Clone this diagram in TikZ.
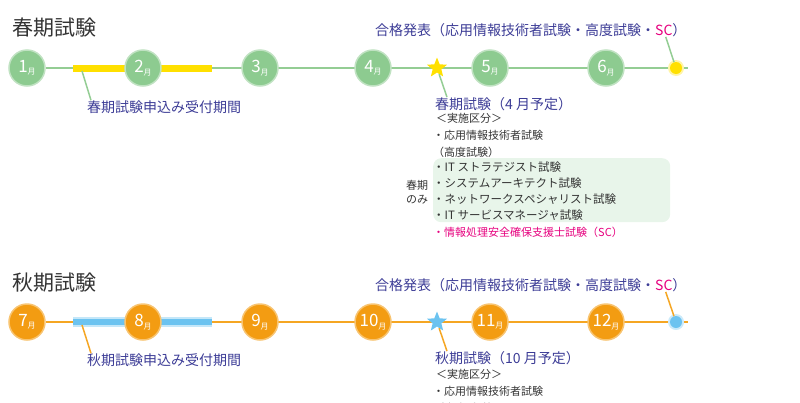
\documentclass[tikz,border=0pt]{standalone}
\usepackage{fontspec}
\setmainfont{Noto Sans CJK JP}
\usetikzlibrary{positioning,shapes.geometric,backgrounds,calc}
\definecolor{grn}{HTML}{8DCB90}
\definecolor{grnline}{HTML}{94CD94}
\definecolor{grnpale}{HTML}{E8F5EA}
\definecolor{org}{HTML}{F39C12}
\definecolor{orgline}{HTML}{F5A623}
\definecolor{ylw}{HTML}{FFE000}
\definecolor{sky}{HTML}{6CC3F0}
\definecolor{navy}{HTML}{3C3C96}
\definecolor{pink1}{HTML}{E6007E}
\definecolor{ink}{HTML}{333333}
\newcommand{\mon}[1]{{\fontsize{17}{17}\selectfont #1}\raisebox{-2.5pt}{\fontsize{8}{8}\selectfont 月}}

\begin{document}
\begin{tikzpicture}[x=1pt,y=-1pt,
  mon/.style={circle,minimum size=36pt,inner sep=0pt,text=white,line width=1.5pt},
  lab/.style={anchor=west,inner sep=0pt,text=navy,font=\fontsize{14}{14}\selectfont},
  note/.style={anchor=west,inner sep=0pt,text=ink,font=\fontsize{11}{11}\selectfont},
  ttl/.style={anchor=west,inner sep=0pt,text=ink,font=\fontsize{21}{21}\selectfont},
  mark5/.style={star,star points=5,star point ratio=2.3,minimum size=21pt,inner sep=0pt},
  dot/.style={circle,minimum size=12pt,inner sep=0pt}]
  \clip (0,0) rectangle (800,402);
  % spring
  \node[ttl] (sttl) at (12,28) {春期試験};
  \foreach \m/\x in {1/27,2/143,3/260,4/373,5/490,6/606}
    \node[mon,fill=grn,draw=grn!55!white] (m\m) at (\x,68) {\mon{\m}};
  \node[mark5,fill=ylw] (sstar) at (437,68) {};
  \node[dot,fill=ylw] (sdot) at (676,68) {};
  \coordinate (send) at (688,68);
  \coordinate (sbarL) at (73,68); \coordinate (sbarR) at (212,68);
  \begin{scope}[on background layer]
    \draw[grnline,line width=2pt] (m1) -- (send);
    \draw[ylw,line width=7pt] (sbarL) -- (sbarR);
    \fill[ylw!35] (sdot) circle (8);
  \end{scope}
  \node[lab] (sapp) at (87,107) {春期試験申込み受付期間};
  \coordinate (sbarP) at (82,71);
  \draw[grnline,line width=1.5pt] (sbarP) -- ([xshift=4pt]sapp.north west);
  \node[lab] (sexam) at (435,104) {春期試験（4 月予定）};
  \draw[grnline,line width=1.5pt] (sstar) -- ([xshift=12pt]sexam.north west);
  \node[lab] (spass) at (375,30) {合格発表（応用情報技術者試験・高度試験・\textcolor{pink1}{SC}）};
  \draw[grnline,line width=1.5pt] ([xshift=-21pt]spass.south east) -- (sdot);
  \node[note] (skubun) at (436,118) {＜実施区分＞};
  \node[note] (sap) at (433,135) {・応用情報技術者試験};
  \node[note] (skodo) at (433,152) {（高度試験）};
  \node[fill=grnpale,rounded corners=8pt,minimum width=237pt,minimum height=64pt,anchor=north west] (sbox) at (433,158) {};
  \foreach \t [count=\i] in {・IT ストラテジスト試験,・システムアーキテクト試験,・ネットワークスペシャリスト試験,・IT サービスマネージャ試験}
    \node[note,font=\fontsize{11.5}{11.5}\selectfont] (sonly\i) at (433,151+16*\i) {\t};
  \node[note,align=center,font=\fontsize{11}{14}\selectfont] (sonlylab) at (406,192) {春期\\のみ};
  \node[note,text=pink1] (ssc) at (433,232) {・情報処理安全確保支援士試験（SC）};
  % autumn
  \node[ttl] (attl) at (12,283) {秋期試験};
  \foreach \m/\x in {7/27,8/143,9/260,10/373,11/490,12/606}
    \node[mon,fill=org,draw=org!60!white] (m\m) at (\x,322) {\mon{\m}};
  \node[mark5,fill=sky] (astar) at (437,322) {};
  \node[dot,fill=sky] (adot) at (676,322) {};
  \coordinate (aend) at (688,322);
  \coordinate (abarL) at (73,322); \coordinate (abarR) at (212,322);
  \begin{scope}[on background layer]
    \draw[orgline,line width=2pt] (m7) -- (aend);
    \draw[sky!40,line width=10pt] (abarL) -- (abarR);
    \draw[sky,line width=6pt] (abarL) -- (abarR);
    \fill[sky!35] (adot) circle (8);
  \end{scope}
  \node[lab] (aapp) at (87,360) {秋期試験申込み受付期間};
  \coordinate (abarP) at (82,325);
  \draw[orgline,line width=1.5pt] (abarP) -- ([xshift=4pt]aapp.north west);
  \node[lab] (aexam) at (435,358) {秋期試験（10 月予定）};
  \draw[orgline,line width=1.5pt] (astar) -- ([xshift=12pt]aexam.north west);
  \node[lab] (apass) at (375,285) {合格発表（応用情報技術者試験・高度試験・\textcolor{pink1}{SC}）};
  \draw[orgline,line width=1.5pt] ([xshift=-21pt]apass.south east) -- (adot);
  \node[note] (akubun) at (436,374) {＜実施区分＞};
  \node[note] (aap) at (433,391) {・応用情報技術者試験};
  \node[note] (akodo) at (433,408) {（高度試験）};
\end{tikzpicture}
\end{document}
